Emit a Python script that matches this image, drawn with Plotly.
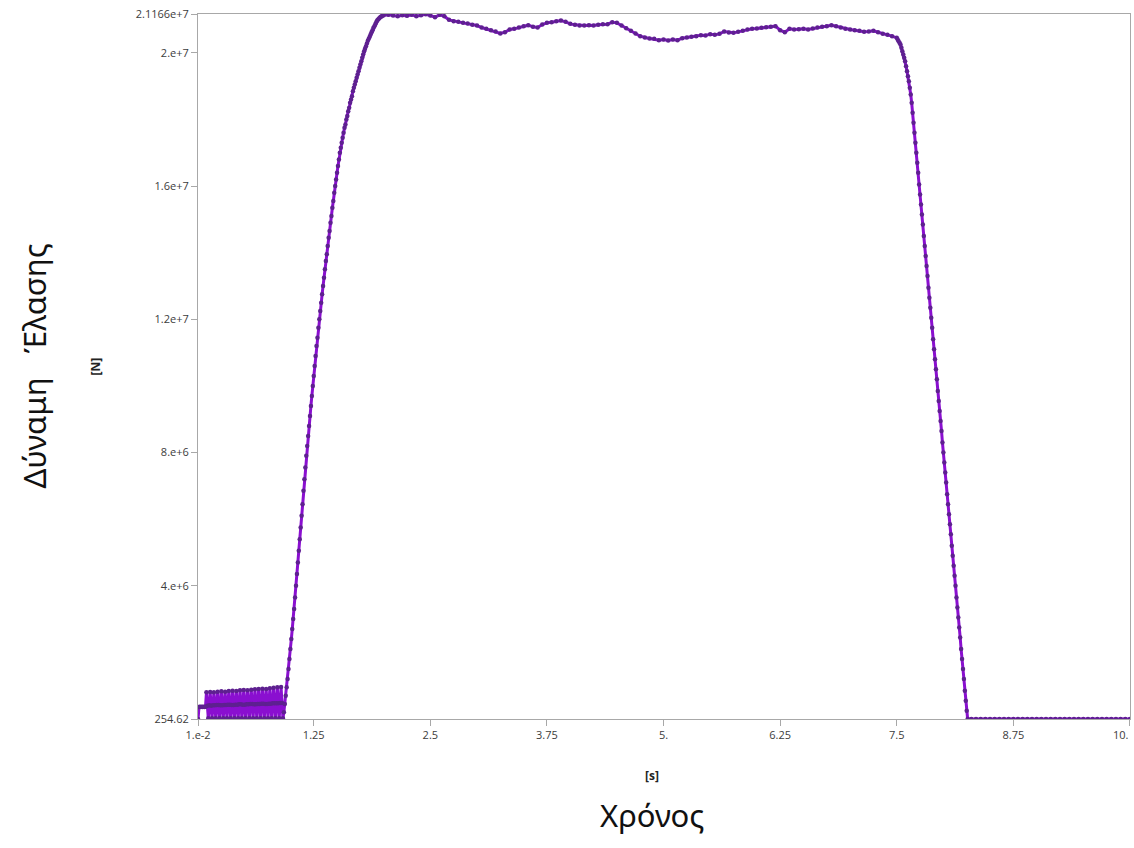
import numpy as np
import plotly.graph_objects as go

# Tensile force [N] against time [s], sampled in segments (force values in MN)
MIN_FORCE_N = 254.62
MAX_FORCE_N = 2.1166e7

# start-up: first sample and short step (t = 0.01 ... 0.09, dt = 0.01)
startup_mn = [0.00025462, 0.36, 0.37, 0.36, 0.37, 0.36, 0.37, 0.36, 0.37]

# oscillating pre-load (t = 0.10 ... 0.91, dt = 0.01)
oscill_mn = [
    0.80, 0.40, 0.02, 0.41,
    0.81, 0.40, 0.02, 0.41,
    0.80, 0.41, 0.02, 0.42,
    0.82, 0.42, 0.02, 0.41,
    0.83, 0.41, 0.02, 0.42,
    0.82, 0.42, 0.02, 0.43,
    0.84, 0.43, 0.02, 0.42,
    0.85, 0.42, 0.02, 0.43,
    0.84, 0.43, 0.02, 0.44,
    0.86, 0.44, 0.02, 0.43,
    0.87, 0.43, 0.02, 0.44,
    0.86, 0.44, 0.02, 0.45,
    0.88, 0.45, 0.02, 0.44,
    0.89, 0.44, 0.02, 0.45,
    0.90, 0.45, 0.02, 0.46,
    0.91, 0.46, 0.02, 0.45,
    0.90, 0.45, 0.02, 0.46,
    0.92, 0.46, 0.02, 0.47,
    0.94, 0.47, 0.02, 0.47,
    0.95, 0.47, 0.02, 0.48,
    0.96, 0.48,
]

# loading ramp (t = 0.92 ... 2.00, dt = 0.01)
ramp_up_mn = [
    0.02, 0.20, 0.45, 0.70, 0.95, 1.20, 1.50, 1.80, 2.10, 2.40,
    2.70, 3.00, 3.30, 3.65, 4.00, 4.35, 4.70, 5.05, 5.40, 5.75,
    6.10, 6.45, 6.85, 7.20, 7.55, 7.90, 8.20, 8.50, 8.80, 9.10,
    9.40, 9.70, 10.00, 10.30, 10.60, 10.90, 11.20, 11.45, 11.75, 12.00,
    12.25, 12.50, 12.75, 13.00, 13.25, 13.50, 13.75, 13.95, 14.20, 14.45,
    14.65, 14.90, 15.10, 15.35, 15.55, 15.80, 16.00, 16.20, 16.40, 16.60,
    16.80, 17.00, 17.15, 17.30, 17.45, 17.60, 17.75, 17.85, 18.00, 18.10,
    18.25, 18.35, 18.50, 18.60, 18.70, 18.85, 18.95, 19.05, 19.15, 19.25,
    19.35, 19.45, 19.55, 19.65, 19.75, 19.85, 19.95, 20.05, 20.12, 20.20,
    20.28, 20.36, 20.42, 20.48, 20.55, 20.62, 20.68, 20.75, 20.80, 20.86,
    20.92, 20.97, 21.00, 21.03, 21.06, 21.08, 21.10, 21.12, 21.13,
]

# holding plateau (t = 2.05 ... 7.45, dt = 0.05)
plateau_mn = [
    21.14, 21.12, 21.10, 21.13, 21.11, 21.14, 21.10, 21.13, 21.16, 21.12,
    21.07, 21.14, 21.10, 20.99, 20.95, 20.93, 20.90, 20.88, 20.84, 20.82,
    20.76, 20.72, 20.68, 20.64, 20.58, 20.62, 20.70, 20.72, 20.76, 20.80,
    20.83, 20.78, 20.76, 20.85, 20.90, 20.92, 20.95, 20.97, 20.93, 20.87,
    20.84, 20.82, 20.82, 20.83, 20.82, 20.84, 20.86, 20.86, 20.92, 20.90,
    20.82, 20.74, 20.66, 20.58, 20.50, 20.46, 20.43, 20.42, 20.38, 20.40,
    20.37, 20.40, 20.38, 20.44, 20.46, 20.48, 20.50, 20.53, 20.52, 20.56,
    20.54, 20.57, 20.64, 20.61, 20.60, 20.63, 20.66, 20.70, 20.72, 20.73,
    20.75, 20.77, 20.78, 20.80, 20.68, 20.62, 20.72, 20.70, 20.71, 20.72,
    20.70, 20.73, 20.76, 20.78, 20.80, 20.83, 20.80, 20.76, 20.72, 20.70,
    20.68, 20.66, 20.63, 20.64, 20.66, 20.62, 20.57, 20.54, 20.50,
]

# unloading ramp (t = 7.50 ... 8.26, dt = 0.01)
ramp_down_mn = [
    20.45, 20.40, 20.35, 20.30, 20.25, 20.15, 20.05, 19.95, 19.85, 19.75,
    19.60, 19.45, 19.30, 19.15, 18.95, 18.75, 18.50, 18.20, 17.90, 17.60,
    17.30, 17.00, 16.70, 16.40, 16.05, 15.75, 15.45, 15.15, 14.85, 14.50,
    14.20, 13.90, 13.60, 13.30, 12.95, 12.65, 12.35, 12.05, 11.75, 11.40,
    11.10, 10.80, 10.50, 10.20, 9.85, 9.55, 9.25, 8.95, 8.65, 8.30,
    8.00, 7.70, 7.40, 7.10, 6.75, 6.45, 6.15, 5.85, 5.55, 5.20,
    4.90, 4.60, 4.30, 4.00, 3.65, 3.35, 3.05, 2.75, 2.45, 2.10,
    1.80, 1.50, 1.20, 0.85, 0.55, 0.25, 0.00025462,
]

# released (t = 8.30 ... 10.00, dt = 0.05)
released_n = [
    254.62, 254.62, 254.62, 254.62, 254.62, 254.62, 254.62, 254.62, 254.62,
    254.62, 254.62, 254.62, 254.62, 254.62, 254.62, 254.62, 254.62, 254.62,
    254.62, 254.62, 254.62, 254.62, 254.62, 254.62, 254.62, 254.62, 254.62,
    254.62, 254.62, 254.62, 254.62, 254.62, 254.62, 254.62, 254.62,
]

# segment time spans [s]
segments = [
    (0.01, 0.09, startup_mn, 1e6),
    (0.10, 0.91, oscill_mn, 1e6),
    (0.92, 2.00, ramp_up_mn, 1e6),
    (2.05, 7.45, plateau_mn, 1e6),
    (7.50, 8.26, ramp_down_mn, 1e6),
    (8.30, 10.00, released_n, 1.0),
]

x_tick_vals = [0.01, 1.25, 2.5, 3.75, 5.0, 6.25, 7.5, 8.75, 10.0]
x_tick_text = ["1.e-2", "1.25", "2.5", "3.75", "5.", "6.25", "7.5", "8.75", "10."]
y_tick_vals = [MIN_FORCE_N, 4e6, 8e6, 1.2e7, 1.6e7, 2e7, MAX_FORCE_N]
y_tick_text = ["254.62", "4.e+6", "8.e+6", "1.2e+7", "1.6e+7", "2.e+7", "2.1166e+7"]

time_s, force_n = [], []
for t0, t1, vals, scale in segments:
    time_s.extend(np.linspace(t0, t1, len(vals)))
    force_n.extend(np.asarray(vals, dtype=float) * scale)

LINE_COLOR = "#8a0fd0"
DOT_COLOR = "#5e2090"
AXIS_COLOR = "#a8a8a8"
TICK_FONT = dict(family="Open Sans, Noto Sans, sans-serif", size=11, color="#3c3c3c")
TITLE_FONT = dict(family="Noto Sans, Open Sans, sans-serif", size=31, color="#111111")

fig = go.Figure()
fig.add_trace(go.Scatter(
    x=time_s, y=force_n, mode="lines+markers",
    line=dict(color=LINE_COLOR, width=3),
    marker=dict(color=DOT_COLOR, size=4.5, line=dict(width=0)),
    hoverinfo="x+y",
))

x_pad = 0.0005
fig.update_layout(
    width=1134, height=848,
    margin=dict(l=198, r=4, t=14, b=129),
    plot_bgcolor="white", paper_bgcolor="white",
    showlegend=False,
)
# the last x label sits at the page edge, so it is drawn right-aligned below
axis_tick_text = x_tick_text[:-1] + [""]
fig.update_xaxes(
    range=[0.01 - x_pad, 10.0 + x_pad], tickmode="array", tickvals=x_tick_vals, ticktext=axis_tick_text,
    ticks="outside", ticklen=6, tickcolor=AXIS_COLOR, tickfont=TICK_FONT,
    automargin=False,
    showline=True, linecolor=AXIS_COLOR, linewidth=1, mirror=True,
    showgrid=False, zeroline=False,
)
fig.add_annotation(text=x_tick_text[-1], xref="x", yref="paper", x=x_tick_vals[-1], y=0,
                   xanchor="right", yanchor="middle", xshift=1, yshift=-15,
                   showarrow=False, font=TICK_FONT)
fig.update_yaxes(
    range=[MIN_FORCE_N, MAX_FORCE_N], tickmode="array", tickvals=y_tick_vals, ticktext=y_tick_text,
    ticks="outside", ticklen=6, tickcolor=AXIS_COLOR, tickfont=TICK_FONT,
    automargin=False,
    showline=True, linecolor=AXIS_COLOR, linewidth=1, mirror=True,
    showgrid=False, zeroline=False,
)

bold_unit = dict(family="Open Sans, Noto Sans, sans-serif", size=12, color="#222222")
fig.add_annotation(text="<b>[N]</b>", xref="paper", yref="paper", x=0, y=0.5,
                   xanchor="center", yanchor="middle", xshift=-103, textangle=-90,
                   showarrow=False, font=bold_unit)
fig.add_annotation(text="<b>[s]</b>", xref="paper", yref="paper", x=0.5, y=0,
                   xanchor="center", yanchor="middle", xshift=-12, yshift=-56,
                   showarrow=False, font=bold_unit)
fig.add_annotation(text="Χρόνος", xref="paper", yref="paper", x=0.5, y=0,
                   xanchor="center", yanchor="middle", xshift=-12, yshift=-96,
                   showarrow=False, font=TITLE_FONT)
fig.add_annotation(text="Δύναμη\u00a0\u00a0 Έλασης", xref="paper", yref="paper", x=0, y=0.5,
                   xanchor="center", yanchor="middle", xshift=-165, textangle=-90,
                   showarrow=False, font=TITLE_FONT)

fig.write_html("out.html")
